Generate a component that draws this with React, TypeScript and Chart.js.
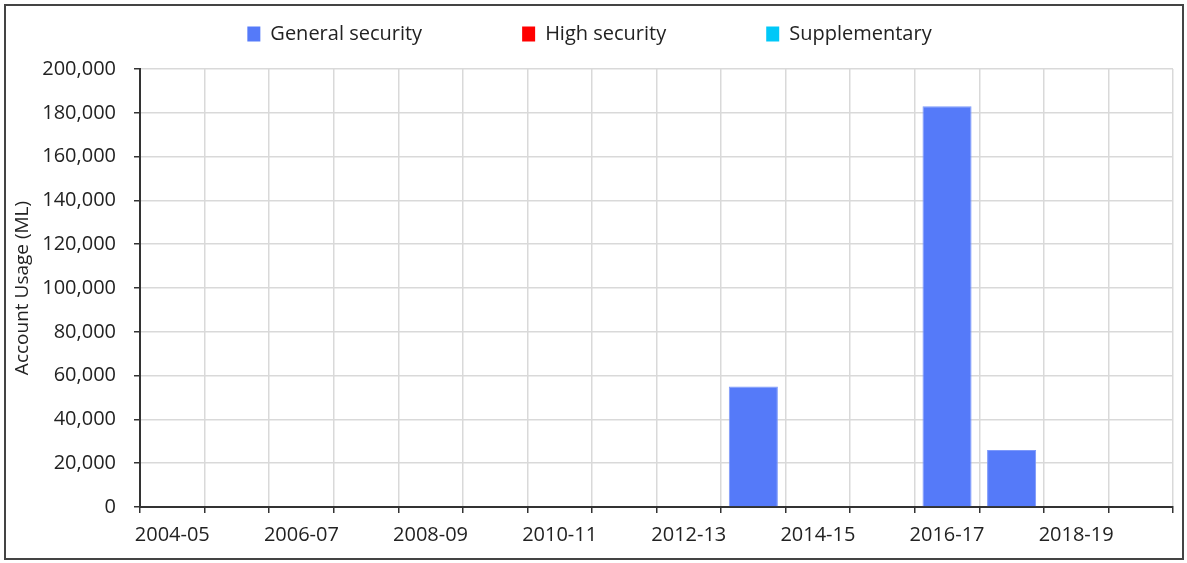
import React, { useEffect, useRef } from 'react';
import { Chart, registerables } from 'chart.js';

Chart.register(...registerables);

// ---------- data ----------
const years = [
  '2004-05', '2005-06', '2006-07', '2007-08', '2008-09', '2009-10', '2010-11', '2011-12',
  '2012-13', '2013-14', '2014-15', '2015-16', '2016-17', '2017-18', '2018-19', '2019-20',
];
const generalSecurity = [0, 0, 0, 0, 0, 0, 0, 0, 0, 55000, 0, 0, 183000, 26000, 0, 0];
const highSecurity = [0, 0, 0, 0, 0, 0, 0, 0, 0, 0, 0, 0, 0, 0, 0, 0];
const supplementary = [0, 0, 0, 0, 0, 0, 0, 0, 0, 0, 0, 0, 0, 0, 0, 0];
const seriesNames = ['General security', 'High security', 'Supplementary'];
const yAxisTitle = 'Account Usage (ML)';
const yMin = 0;
const yMax = 200000;
const yStep = 20000;

// ---------- styles ----------
const FONT = "'Open Sans', 'Noto Sans', sans-serif";
const TEXT = '#222222';
const GRID = '#d9d9d9';
const AXIS = '#333333';
const CANVAS_W = 1176;
const CANVAS_H = 552;
const LEGEND_PAD = 100;
const LEGEND_FONT = 20;
const LEGEND_CENTER_Y = 28;
const LEGEND_AREA_H = 63;

const legendPlacer = {
  id: 'legendPlacer',
  afterLayout(chart: any) {
    const lg = chart.legend;
    if (!lg) return;
    lg.top = LEGEND_CENTER_Y - LEGEND_PAD - LEGEND_FONT / 2;
    lg.height = lg.bottom - lg.top;
  },
};

export default function App() {
  const ref = useRef<HTMLCanvasElement | null>(null);

  useEffect(() => {
    if (!ref.current) return;
    const chart = new Chart(ref.current, {
      type: 'bar',
      data: {
        labels: years,
        datasets: [
          {
            label: seriesNames[0],
            data: generalSecurity,
            backgroundColor: '#557AF9',
            borderColor: '#7D99FA',
            borderWidth: (c: any) => (c.raw ? 1 : 0),
          },
          {
            label: seriesNames[1],
            data: highSecurity,
            backgroundColor: '#FF0000',
            borderWidth: 0,
          },
          {
            label: seriesNames[2],
            data: supplementary,
            backgroundColor: '#00C8F8',
            borderWidth: 0,
          },
        ],
      },
      options: {
        responsive: false,
        animation: false,
        layout: { padding: { left: 0, right: 9, top: 0, bottom: 0 } },
        datasets: {
          bar: { categoryPercentage: 1, barPercentage: 0.76 },
        },
        plugins: {
          tooltip: { enabled: false },
          legend: {
            position: 'top',
            maxHeight: LEGEND_AREA_H,
            labels: {
              boxWidth: 13,
              boxHeight: 15,
              padding: LEGEND_PAD,
              color: TEXT,
              font: { family: FONT, size: LEGEND_FONT },
            },
          },
        },
        scales: {
          x: {
            stacked: true,
            offset: true,
            grid: {
              offset: true,
              color: GRID,
              lineWidth: 1.5,
              tickColor: AXIS,
              tickWidth: 1.5,
              tickLength: 6,
            },
            border: { color: AXIS, width: 2 },
            ticks: {
              autoSkip: false,
              maxRotation: 0,
              color: TEXT,
              padding: 10,
              font: { family: FONT, size: 20 },
              callback: (_v: any, i: number) => (i % 2 === 0 ? years[i] : ''),
            },
            afterFit: (s: any) => {
              s.height = 51;
            },
          },
          y: {
            stacked: true,
            min: yMin,
            max: yMax,
            grid: {
              color: GRID,
              lineWidth: 1.5,
              tickColor: AXIS,
              tickWidth: 1.5,
              tickLength: 6,
            },
            border: { color: AXIS, width: 2 },
            ticks: {
              stepSize: yStep,
              color: TEXT,
              padding: 18,
              font: { family: FONT, size: 20 },
              callback: (v: any) => Number(v).toLocaleString('en-US'),
            },
            title: {
              display: true,
              text: yAxisTitle,
              color: TEXT,
              padding: { top: 5, bottom: 0 },
              font: { family: FONT, size: 19 },
            },
            afterFit: (s: any) => {
              s.width = 134;
            },
          },
        },
      },
      plugins: [legendPlacer],
    } as any);
    return () => chart.destroy();
  }, []);

  return (
    <div
      style={{
        position: 'absolute',
        left: 4,
        top: 4,
        width: CANVAS_W + 4,
        height: CANVAS_H + 4,
        border: '2px solid #444',
        boxSizing: 'border-box',
        background: '#fff',
      }}
    >
      <canvas ref={ref} width={CANVAS_W} height={CANVAS_H} style={{ display: 'block' }} />
    </div>
  );
}
